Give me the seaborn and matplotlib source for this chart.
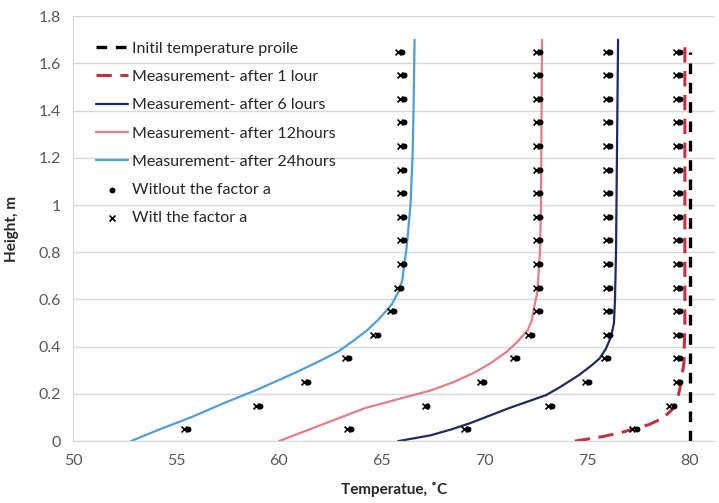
"""
Temperature profiles over height - measurement vs model, with/without factor a.
"""
import numpy as np
import pandas as pd
import matplotlib
matplotlib.use('Agg')
import matplotlib.pyplot as plt
import seaborn as sns

init_temp = [80.0, 80.0]
init_height = [0.0, 1.65]

h1_temp = [74.4, 75.8, 76.8, 77.4, 78.0, 78.5, 78.9, 79.2, 79.4, 79.5, 79.6,
           79.7, 79.75, 79.75, 79.75]
h1_height = [0.0, 0.02, 0.04, 0.055, 0.07, 0.09, 0.115, 0.14, 0.18, 0.22, 0.27,
             0.33, 0.5, 1.0, 1.7]

h6_temp = [65.8, 67.4, 68.4, 69.3, 71.2, 73.0, 73.7, 74.6, 75.2, 75.6, 75.9,
           76.1, 76.2, 76.3, 76.35, 76.4, 76.5]
h6_height = [0.0, 0.025, 0.05, 0.076, 0.14, 0.195, 0.23, 0.28, 0.32, 0.35, 0.39,
             0.43, 0.46, 0.5, 0.6, 0.8, 1.7]

h12_temp = [60.0, 62.1, 64.2, 65.9, 67.4, 68.5, 69.5, 70.3, 71.1, 71.6, 72.1,
            72.3, 72.4, 72.55, 72.6, 72.7, 72.75, 72.8]
h12_height = [0.0, 0.07, 0.14, 0.18, 0.215, 0.25, 0.29, 0.33, 0.38, 0.42, 0.47,
              0.51, 0.56, 0.62, 0.67, 0.8, 1.0, 1.7]

h24_temp = [52.8, 54.2, 55.7, 57.3, 59.0, 60.8, 62.0, 62.9, 63.7, 64.3, 64.9,
            65.5, 65.8, 66.0, 66.1, 66.2, 66.3, 66.4, 66.5, 66.55, 66.6]
h24_height = [0.0, 0.05, 0.1, 0.16, 0.22, 0.29, 0.34, 0.38, 0.43, 0.47, 0.52,
              0.58, 0.63, 0.68, 0.75, 0.81, 0.9, 1.0, 1.2, 1.4, 1.7]

# model points
model_height = [0.05, 0.15, 0.25, 0.35, 0.45, 0.55, 0.65, 0.75, 0.85,
                0.95, 1.05, 1.15, 1.25, 1.35, 1.45, 1.55, 1.65]

# without the factor a (dots)
no_a_1h = [77.4, 79.2, 79.5, 79.5, 79.5, 79.5, 79.5, 79.5, 79.5,
           79.5, 79.5, 79.5, 79.5, 79.5, 79.5, 79.5, 79.5]
no_a_6h = [69.2, 73.3, 75.1, 76.0, 76.1, 76.1, 76.1, 76.1, 76.1,
           76.1, 76.1, 76.1, 76.1, 76.1, 76.1, 76.1, 76.1]
no_a_12h = [63.5, 67.2, 70.0, 71.6, 72.3, 72.7, 72.7, 72.7, 72.7,
            72.7, 72.7, 72.7, 72.7, 72.7, 72.7, 72.7, 72.7]
no_a_24h = [55.6, 59.1, 61.4, 63.4, 64.8, 65.6, 65.95, 66.1, 66.1,
            66.1, 66.1, 66.1, 66.1, 66.1, 66.1, 66.1, 66.0]

# with the factor a (crosses)
a_1h = [77.2, 79.0, 79.3, 79.3, 79.3, 79.3, 79.3, 79.3, 79.3,
        79.3, 79.3, 79.3, 79.3, 79.3, 79.3, 79.3, 79.3]
a_6h = [69.0, 73.1, 74.9, 75.8, 75.9, 75.9, 75.9, 75.9, 75.9,
        75.9, 75.9, 75.9, 75.9, 75.9, 75.9, 75.9, 75.9]
a_12h = [63.3, 67.1, 69.8, 71.4, 72.1, 72.5, 72.5, 72.5, 72.5,
         72.5, 72.5, 72.5, 72.5, 72.5, 72.5, 72.5, 72.5]
a_24h = [55.4, 58.9, 61.2, 63.2, 64.6, 65.4, 65.75, 65.9, 65.9,
         65.9, 65.9, 65.9, 65.9, 65.9, 65.9, 65.9, 65.8]

labels = ['Initil temperature proile', 'Measurement- after 1 lour',
          'Measurement- after 6 lours', 'Measurement- after 12hours',
          'Measurement- after 24hours', 'Witlout the factor a',
          'Witl the factor a']

sns.set_style('white')
plt.rcParams['font.family'] = ['Lato', 'DejaVu Sans']

fig = plt.figure(figsize=(7.19, 5.03), dpi=100)
ax = fig.add_axes([0.102, 0.123, 0.892, 0.845])

sns.lineplot(x=init_temp, y=init_height, sort=False, estimator=None, ax=ax,
             color='black', linewidth=2.4, linestyle=(0, (3.2, 2.6)), label=labels[0])
sns.lineplot(x=h1_temp, y=h1_height, sort=False, estimator=None, ax=ax,
             color='#c4303f', linewidth=2.2, linestyle=(0, (5, 2.8)), label=labels[1])
sns.lineplot(x=h6_temp, y=h6_height, sort=False, estimator=None, ax=ax,
             color='#1f2a60', linewidth=1.6, label=labels[2])
sns.lineplot(x=h12_temp, y=h12_height, sort=False, estimator=None, ax=ax,
             color='#e37d8c', linewidth=1.6, label=labels[3])
sns.lineplot(x=h24_temp, y=h24_height, sort=False, estimator=None, ax=ax,
             color='#4f9fd6', linewidth=1.6, label=labels[4])

no_a = [no_a_1h, no_a_6h, no_a_12h, no_a_24h]
with_a = [a_1h, a_6h, a_12h, a_24h]
for i, temps in enumerate(no_a):
    sns.scatterplot(x=temps, y=model_height, ax=ax, color='black', marker='o',
                    s=18, edgecolor='black', linewidth=0,
                    label=labels[5] if i == 0 else None, zorder=5)
for i, temps in enumerate(with_a):
    sns.scatterplot(x=temps, y=model_height, ax=ax, color='black', marker='x',
                    s=18, linewidth=1.2,
                    label=labels[6] if i == 0 else None, zorder=5)

ax.set_xlim(50, 81.2)
ax.set_ylim(0, 1.8)
ax.set_xticks([50, 55, 60, 65, 70, 75, 80])
ax.set_yticks(np.arange(0, 1.81, 0.2))
ax.set_yticklabels(['0', '0.2', '0.4', '0.6', '0.8', '1', '1.2', '1.4', '1.6', '1.8'])
ax.yaxis.grid(True, color='#d9d9d9', linewidth=1.0)
ax.xaxis.grid(False)
ax.set_axisbelow(True)
for side in ['top', 'right']:
    ax.spines[side].set_visible(False)
ax.spines['left'].set_color('#d9d9d9')
ax.spines['bottom'].set_color('#d9d9d9')
ax.tick_params(axis='both', labelsize=11.5, colors='#595959', length=0, pad=9)

ax.set_xlabel('Temperatue, ˚C', fontsize=11, fontweight='bold', color='#262626',
              labelpad=10)
ax.set_ylabel('Height, m', fontsize=11, fontweight='bold', color='#262626',
              labelpad=14)

handles, lbls = ax.get_legend_handles_labels()
order = [lbls.index(l) for l in labels]
ax.legend([handles[i] for i in order], [lbls[i] for i in order],
          loc='upper left', bbox_to_anchor=(0.025, 0.955), frameon=False,
          fontsize=11.5, handlelength=2.0, labelspacing=0.88, handletextpad=0.3,
          borderaxespad=0)

fig.savefig('out.png', dpi=100)
